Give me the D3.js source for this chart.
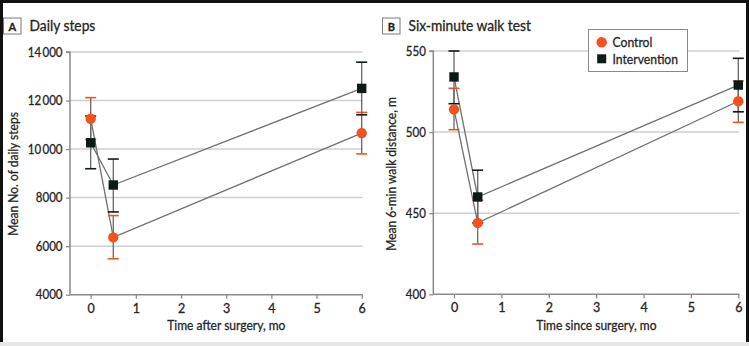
<!DOCTYPE html>
<html><head><meta charset="utf-8">
<script src="https://cdn.jsdelivr.net/npm/d3@7"></script>
<style>
body{margin:0;background:#fff;}
svg{display:block;font-family:Lato,sans-serif;}
svg text{stroke:#262626;stroke-width:0.3px;}
</style></head><body>
<svg id="c" width="749" height="346"></svg>
<script>
const times = [0, 0.5, 6];
const stepsControl = [11250, 6360, 10660];
const stepsControlLo = [10400, 5480, 9800];
const stepsControlHi = [12120, 7260, 11510];
const stepsInterv = [10260, 8520, 12500];
const stepsIntervLo = [9190, 7410, 11410];
const stepsIntervHi = [11360, 9590, 13580];
const walkControl = [514, 444, 519];
const walkControlLo = [501.5, 431, 506];
const walkControlHi = [527, 458, 531.5];
const walkInterv = [534, 460, 529];
const walkIntervLo = [517.5, 444, 512.5];
const walkIntervHi = [550, 476.5, 545.5];
const xTicks = [0, 1, 2, 3, 4, 5, 6];
const stepsTicks = [4000, 6000, 8000, 10000, 12000, 14000];
const walkTicks = [400, 450, 500, 550];
const seriesNames = ["Control", "Intervention"];

const ORANGE = "#f5511f", BLACK = "#0d1a17", TXT = "#262626";
const svg = d3.select("#c");
svg.append("rect").attr("width",749).attr("height",346).attr("fill","#fff");
svg.append("rect").attr("x",0).attr("y",342).attr("width",749).attr("height",4).attr("fill","#e6e6e6");

function squeeze(sel, f){
  sel.each(function(){
    const w = this.getComputedTextLength();
    this.setAttribute("textLength", (w*f).toFixed(2));
    this.setAttribute("lengthAdjust","spacingAndGlyphs");
  });
}

const fmtSteps = d => d >= 10000 ? String(d).replace(/(\d\d)(\d{3})$/, "$1\u2009$2") : String(d);

function panel(o){
  const x = d3.scaleLinear().domain(o.xd).range(o.xr);
  const y = d3.scaleLinear().domain(o.yd).range(o.yr);
  const g = svg.append("g");
  g.selectAll(".grid").data(o.yTicks.slice(1)).join("line")
    .attr("x1", o.xr[0]).attr("x2", o.xr[1]+1)
    .attr("y1", d=>y(d)).attr("y2", d=>y(d))
    .attr("stroke","#cfcfcf").attr("stroke-width",1.5);
  const ya = g.append("g").attr("transform",`translate(${o.xr[0]},0)`)
    .call(d3.axisLeft(y).tickValues(o.yTicks).tickFormat(o.fmt).tickSize(4).tickPadding(3.5));
  ya.select(".domain").attr("stroke","#8a8a8a").attr("stroke-width",1.5).attr("d",`M-4,${y(o.yd[1])}H0V${o.yr[0]}`);
  ya.selectAll(".tick line").attr("stroke","#8a8a8a").attr("stroke-width",1.3);
  ya.selectAll("text").attr("fill",TXT).attr("font-size",12.5).attr("font-family","Lato,sans-serif").call(squeeze,0.92);
  const xa = g.append("g").attr("transform",`translate(0,${o.yr[0]})`)
    .call(d3.axisBottom(x).tickValues(xTicks).tickFormat(d3.format("d")).tickSize(4).tickPadding(5));
  xa.select(".domain").attr("stroke","#8a8a8a").attr("stroke-width",1.5).attr("d",`M${o.xr[0]},0H${o.xr[1]+1}`);
  xa.selectAll(".tick line").attr("stroke","#8a8a8a").attr("stroke-width",1.3);
  xa.selectAll("text").attr("fill",TXT).attr("font-size",12.5).attr("font-family","Lato,sans-serif");
  g.append("text").attr("x",(o.xr[0]+o.xr[1])/2+10.5).attr("y",330).attr("text-anchor","middle")
    .attr("font-size",13.5).attr("fill",TXT).text(o.xlabel).call(squeeze,0.89);
  g.append("text").attr("transform",`translate(${o.ylx},174) rotate(-90)`)
    .attr("text-anchor","middle").attr("font-size",13.5).attr("fill",TXT).text(o.ylabel).call(squeeze,0.89);
  g.append("rect").attr("x",o.tx).attr("y",18).attr("width",17.5).attr("height",16)
    .attr("fill","#fff").attr("stroke","#7a7a7a").attr("stroke-width",1);
  g.append("text").attr("x",o.tx+8.75).attr("y",30.5).attr("text-anchor","middle")
    .attr("font-size",11).attr("font-weight","bold").attr("fill","#222").text(o.letter);
  g.append("text").attr("x",o.tx+26).attr("y",30.5).attr("font-size",14.5).attr("fill",TXT).text(o.title).call(squeeze,0.95);

  const series = [
    {v:o.c, lo:o.clo, hi:o.chi, col:ORANGE, shape:"circle"},
    {v:o.i, lo:o.ilo, hi:o.ihi, col:BLACK, shape:"square"}
  ];
  const line = d3.line().x((d,k)=>x(times[k])).y(d=>y(d));
  series.forEach(s=>{
    g.append("path").attr("d", line(s.v)).attr("fill","none").attr("stroke","#707070").attr("stroke-width",1.3);
  });
  series.forEach(s=>{
    times.forEach((t,k)=>{
      const cx = x(t);
      g.append("line").attr("x1",cx).attr("x2",cx).attr("y1",y(s.lo[k])).attr("y2",y(s.hi[k]))
        .attr("stroke","#666").attr("stroke-width",1.3);
      [s.lo[k], s.hi[k]].forEach(v=>{
        g.append("line").attr("x1",cx-5.5).attr("x2",cx+5.5).attr("y1",y(v)).attr("y2",y(v))
          .attr("stroke",s.col).attr("stroke-width",1.6);
      });
    });
  });
  series.forEach(s=>{
    times.forEach((t,k)=>{
      if(s.shape==="circle") g.append("circle").attr("cx",x(t)).attr("cy",y(s.v[k])).attr("r",5.2).attr("fill",s.col);
      else g.append("rect").attr("x",x(t)-4.7).attr("y",y(s.v[k])-4.7).attr("width",9.4).attr("height",9.4).attr("fill",s.col);
    });
  });
  return g;
}

panel({xd:[-0.458,6], xr:[70,361.7], yd:[4000,14000], yr:[294.7,52], yTicks:stepsTicks, fmt:fmtSteps,
  xlabel:"Time after surgery, mo", ylabel:"Mean No. of daily steps", ylx:18, tx:3.5, letter:"A", title:"Daily steps",
  c:stepsControl, clo:stepsControlLo, chi:stepsControlHi, i:stepsInterv, ilo:stepsIntervLo, ihi:stepsIntervHi});
panel({xd:[-0.437,6], xr:[433.3,738.3], yd:[400,550], yr:[294.3,51], yTicks:walkTicks, fmt:d3.format("d"),
  xlabel:"Time since surgery, mo", ylabel:"Mean 6-min walk distance, m", ylx:396, tx:382.5, letter:"B", title:"Six-minute walk test",
  c:walkControl, clo:walkControlLo, chi:walkControlHi, i:walkInterv, ilo:walkIntervLo, ihi:walkIntervHi});

const lg = svg.append("g");
lg.append("rect").attr("x",588.5).attr("y",29.5).attr("width",99).attr("height",42).attr("fill","#fff").attr("stroke","#8a8a8a").attr("stroke-width",1);
lg.append("circle").attr("cx",601.7).attr("cy",42.3).attr("r",5.2).attr("fill",ORANGE);
lg.append("rect").attr("x",597.2).attr("y",54.3).attr("width",9).attr("height",9).attr("fill",BLACK);
seriesNames.forEach((n,k)=>{
  lg.append("text").attr("x",612.5).attr("y",47+k*16.5).attr("font-size",13.5).attr("fill",TXT).text(n).call(squeeze,0.9);
});

svg.append("rect").attr("x",0).attr("y",0).attr("width",749).attr("height",3).attr("fill","#111");
svg.append("rect").attr("x",0).attr("y",0).attr("width",3).attr("height",342).attr("fill","#111");
svg.append("rect").attr("x",746).attr("y",0).attr("width",3).attr("height",342).attr("fill","#111");
</script></body></html>
